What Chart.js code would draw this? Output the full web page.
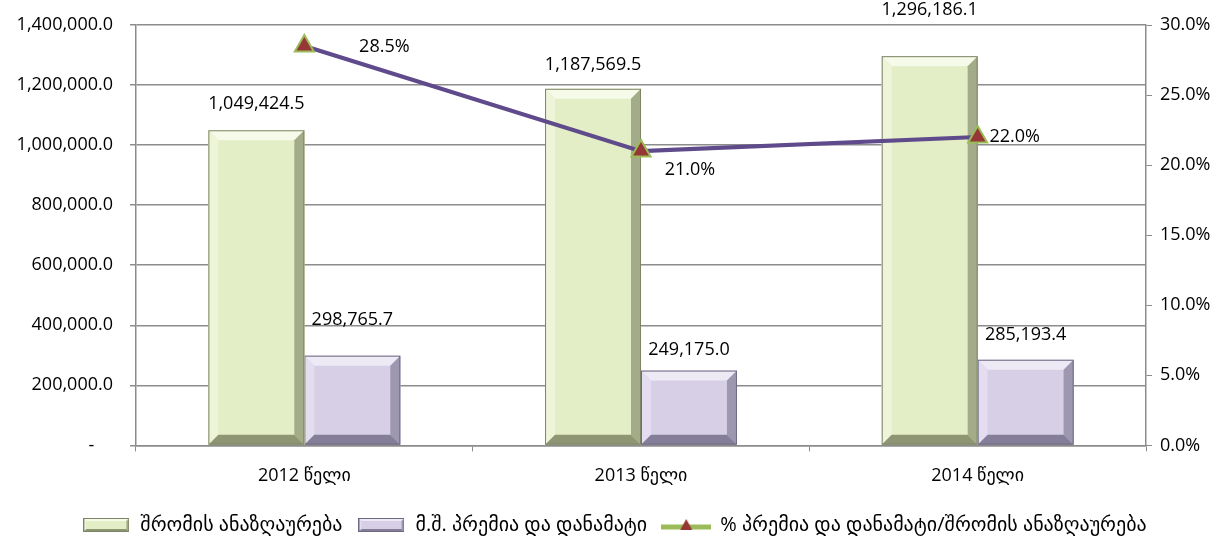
<!DOCTYPE html>
<html>
<head>
<meta charset="utf-8">
<script src="https://cdn.jsdelivr.net/npm/chart.js@4.4.1/dist/chart.umd.min.js"></script>
<style>
  html, body { margin: 0; padding: 0; background: #fff; }
  #wrap { width: 1229px; height: 540px; }
</style>
</head>
<body>
<div id="wrap"><canvas id="chart"></canvas></div>
<script>
const years = ["2012 წელი", "2013 წელი", "2014 წელი"];
const wages = [1049424.5, 1187569.5, 1296186.1];
const bonuses = [298765.7, 249175.0, 285193.4];
const bonusShare = [28.5, 21.0, 22.0];
const leftTicks = [0, 200000, 400000, 600000, 800000, 1000000, 1200000, 1400000];
const rightTicks = [0, 5, 10, 15, 20, 25, 30];

const seriesNames = [
    "% პრემია და დანამატი/შრომის ანაზღაურება",
    "შრომის ანაზღაურება",
    "მ.შ. პრემია და დანამატი"
];

const FONT = "'Open Sans', 'DejaVu Sans', sans-serif";

const greenBar = { face: "#e3eec6", top: "#f6fae9", left: "#edf4d8", right: "#a3ab88", bottom: "#8e9573", edge: "#7c8466" };
const purpleBar = { face: "#d6cfe6", top: "#eeeaf5", left: "#e3ddef", right: "#9e97b0", bottom: "#857e98", edge: "#6f6982" };
const palettes = { 1: greenBar, 2: purpleBar };

function fmtNum(v) {
    return v.toLocaleString("en-US", { minimumFractionDigits: 1, maximumFractionDigits: 1 });
}

function drawBevel(ctx, l, t, r, b, pal, bev) {
    ctx.save();
    ctx.fillStyle = pal.face;
    ctx.fillRect(l, t, r - l, b - t);
    const quad = (pts, color) => {
        ctx.beginPath();
        ctx.moveTo(pts[0][0], pts[0][1]);
        for (let i = 1; i < pts.length; i++) ctx.lineTo(pts[i][0], pts[i][1]);
        ctx.closePath();
        ctx.fillStyle = color;
        ctx.fill();
    };
    quad([[l, t], [r, t], [r - bev, t + bev], [l + bev, t + bev]], pal.top);
    quad([[l, t], [l + bev, t + bev], [l + bev, b - bev], [l, b]], pal.left);
    quad([[r, t], [r, b], [r - bev, b - bev], [r - bev, t + bev]], pal.right);
    quad([[l, b], [l + bev, b - bev], [r - bev, b - bev], [r, b]], pal.bottom);
    ctx.strokeStyle = pal.edge;
    ctx.lineWidth = 1;
    ctx.strokeRect(l + 0.5, t + 0.5, r - l - 1, b - t - 1);
    ctx.restore();
}

function barIcon(pal) {
    const c = document.createElement("canvas");
    c.width = 46; c.height = 14;
    drawBevel(c.getContext("2d"), 0, 0, 46, 14, pal, 3);
    return c;
}

function lineIcon() {
    const c = document.createElement("canvas");
    c.width = 50; c.height = 16;
    const g = c.getContext("2d");
    g.strokeStyle = "#9bbb59";
    g.lineWidth = 5;
    g.beginPath(); g.moveTo(0, 10); g.lineTo(50, 10); g.stroke();
    g.beginPath(); g.moveTo(25, 2); g.lineTo(31, 13); g.lineTo(19, 13); g.closePath();
    g.fillStyle = "#953735"; g.fill();
    return c;
}

const bevelPlugin = {
    id: "bevel",
    afterDatasetDraw(chart, args) {
        const pal = palettes[args.index];
        if (!pal) return;
        const ctx = chart.ctx;
        args.meta.data.forEach(el => {
            const p = el.getProps(["x", "y", "base", "width"], true);
            drawBevel(ctx, p.x - p.width / 2, p.y, p.x + p.width / 2, p.base, pal, 10);
        });
    }
};

// label offsets (dx, dy from the mark), by dataset index
const labelOffsets = {
    0: [[80, 1], [49, 19], [37, 0]],
    1: [[0, -26], [0, -24], [0, -46]],
    2: [[0, -36], [0, -21], [0, -25]]
};

const labelPlugin = {
    id: "valueLabels",
    afterDatasetsDraw(chart) {
        const ctx = chart.ctx;
        ctx.save();
        ctx.font = "18px " + FONT;
        ctx.fillStyle = "#000";
        ctx.textAlign = "center";
        ctx.textBaseline = "middle";
        chart.data.datasets.forEach((ds, di) => {
            chart.getDatasetMeta(di).data.forEach((el, i) => {
                const off = labelOffsets[di][i];
                const txt = di === 0 ? ds.data[i].toFixed(1) + "%" : fmtNum(ds.data[i]);
                ctx.fillText(txt, el.x + off[0], el.y + off[1]);
            });
        });
        ctx.restore();
    }
};

const legendIcons = { 0: lineIcon(), 1: barIcon(greenBar), 2: barIcon(purpleBar) };
const legendOrder = [1, 2, 0];

new Chart(document.getElementById("chart"), {
    data: {
        labels: years,
        datasets: [
            {
                type: "line",
                label: seriesNames[0],
                data: bonusShare,
                yAxisID: "y1",
                borderColor: "#5f4a8b",
                borderWidth: 4,
                pointStyle: "triangle",
                pointRadius: 11,
                pointBackgroundColor: "#953735",
                pointBorderColor: "#9bbb59",
                pointBorderWidth: 2,
                order: 0
            },
            {
                type: "bar",
                label: seriesNames[1],
                data: wages,
                yAxisID: "y",
                backgroundColor: greenBar.face,
                barPercentage: 1,
                categoryPercentage: 0.57,
                order: 1
            },
            {
                type: "bar",
                label: seriesNames[2],
                data: bonuses,
                yAxisID: "y",
                backgroundColor: purpleBar.face,
                barPercentage: 1,
                categoryPercentage: 0.57,
                order: 1
            }
        ]
    },
    options: {
        responsive: true,
        maintainAspectRatio: false,
        animation: false,
        layout: { padding: { top: 25, left: 0, right: 0, bottom: -5 } },
        plugins: {
            tooltip: { enabled: false },
            legend: {
                position: "bottom",
                labels: {
                    color: "#000",
                    font: { family: FONT, size: 20 },
                    usePointStyle: true,
                    pointStyleWidth: 48,
                    padding: 15,
                    generateLabels(chart) {
                        return legendOrder.map(i => ({
                            text: chart.data.datasets[i].label,
                            pointStyle: legendIcons[i],
                            fillStyle: "transparent",
                            strokeStyle: "transparent",
                            lineWidth: 0,
                            fontColor: "#000",
                            datasetIndex: i
                        }));
                    }
                }
            }
        },
        scales: {
            x: {
                offset: true,
                afterFit(scale) { scale.height -= 1; },
                grid: { drawOnChartArea: false, color: "#8c8c8c", tickLength: 6, offset: true },
                border: { color: "#8c8c8c", width: 1.5 },
                ticks: { color: "#000", font: { family: FONT, size: 18 }, padding: 14 }
            },
            y: {
                position: "left",
                min: 0,
                max: 1400000,
                afterFit(scale) { scale.width = 136; scale.paddingTop = 0; },
                afterBuildTicks(scale) { scale.ticks = leftTicks.map(v => ({ value: v })); },
                grid: { color: "#8c8c8c", lineWidth: 1.5, tickLength: 6 },
                border: { color: "#8c8c8c", width: 1.5 },
                ticks: {
                    color: "#000",
                    font: { family: FONT, size: 18 },
                    padding: 17,
                    callback: v => v === 0 ? "-    " : fmtNum(v)
                }
            },
            y1: {
                position: "right",
                min: 0,
                max: 30,
                afterFit(scale) { scale.width = 83; scale.paddingTop = 0; },
                afterBuildTicks(scale) { scale.ticks = rightTicks.map(v => ({ value: v })); },
                grid: { drawOnChartArea: false, color: "#8c8c8c", tickLength: 6 },
                border: { color: "#8c8c8c", width: 1.5 },
                ticks: {
                    color: "#000",
                    font: { family: FONT, size: 18 },
                    padding: 8,
                    callback: v => v.toFixed(1) + "%"
                }
            }
        }
    },
    plugins: [bevelPlugin, labelPlugin]
});
</script>
</body>
</html>
